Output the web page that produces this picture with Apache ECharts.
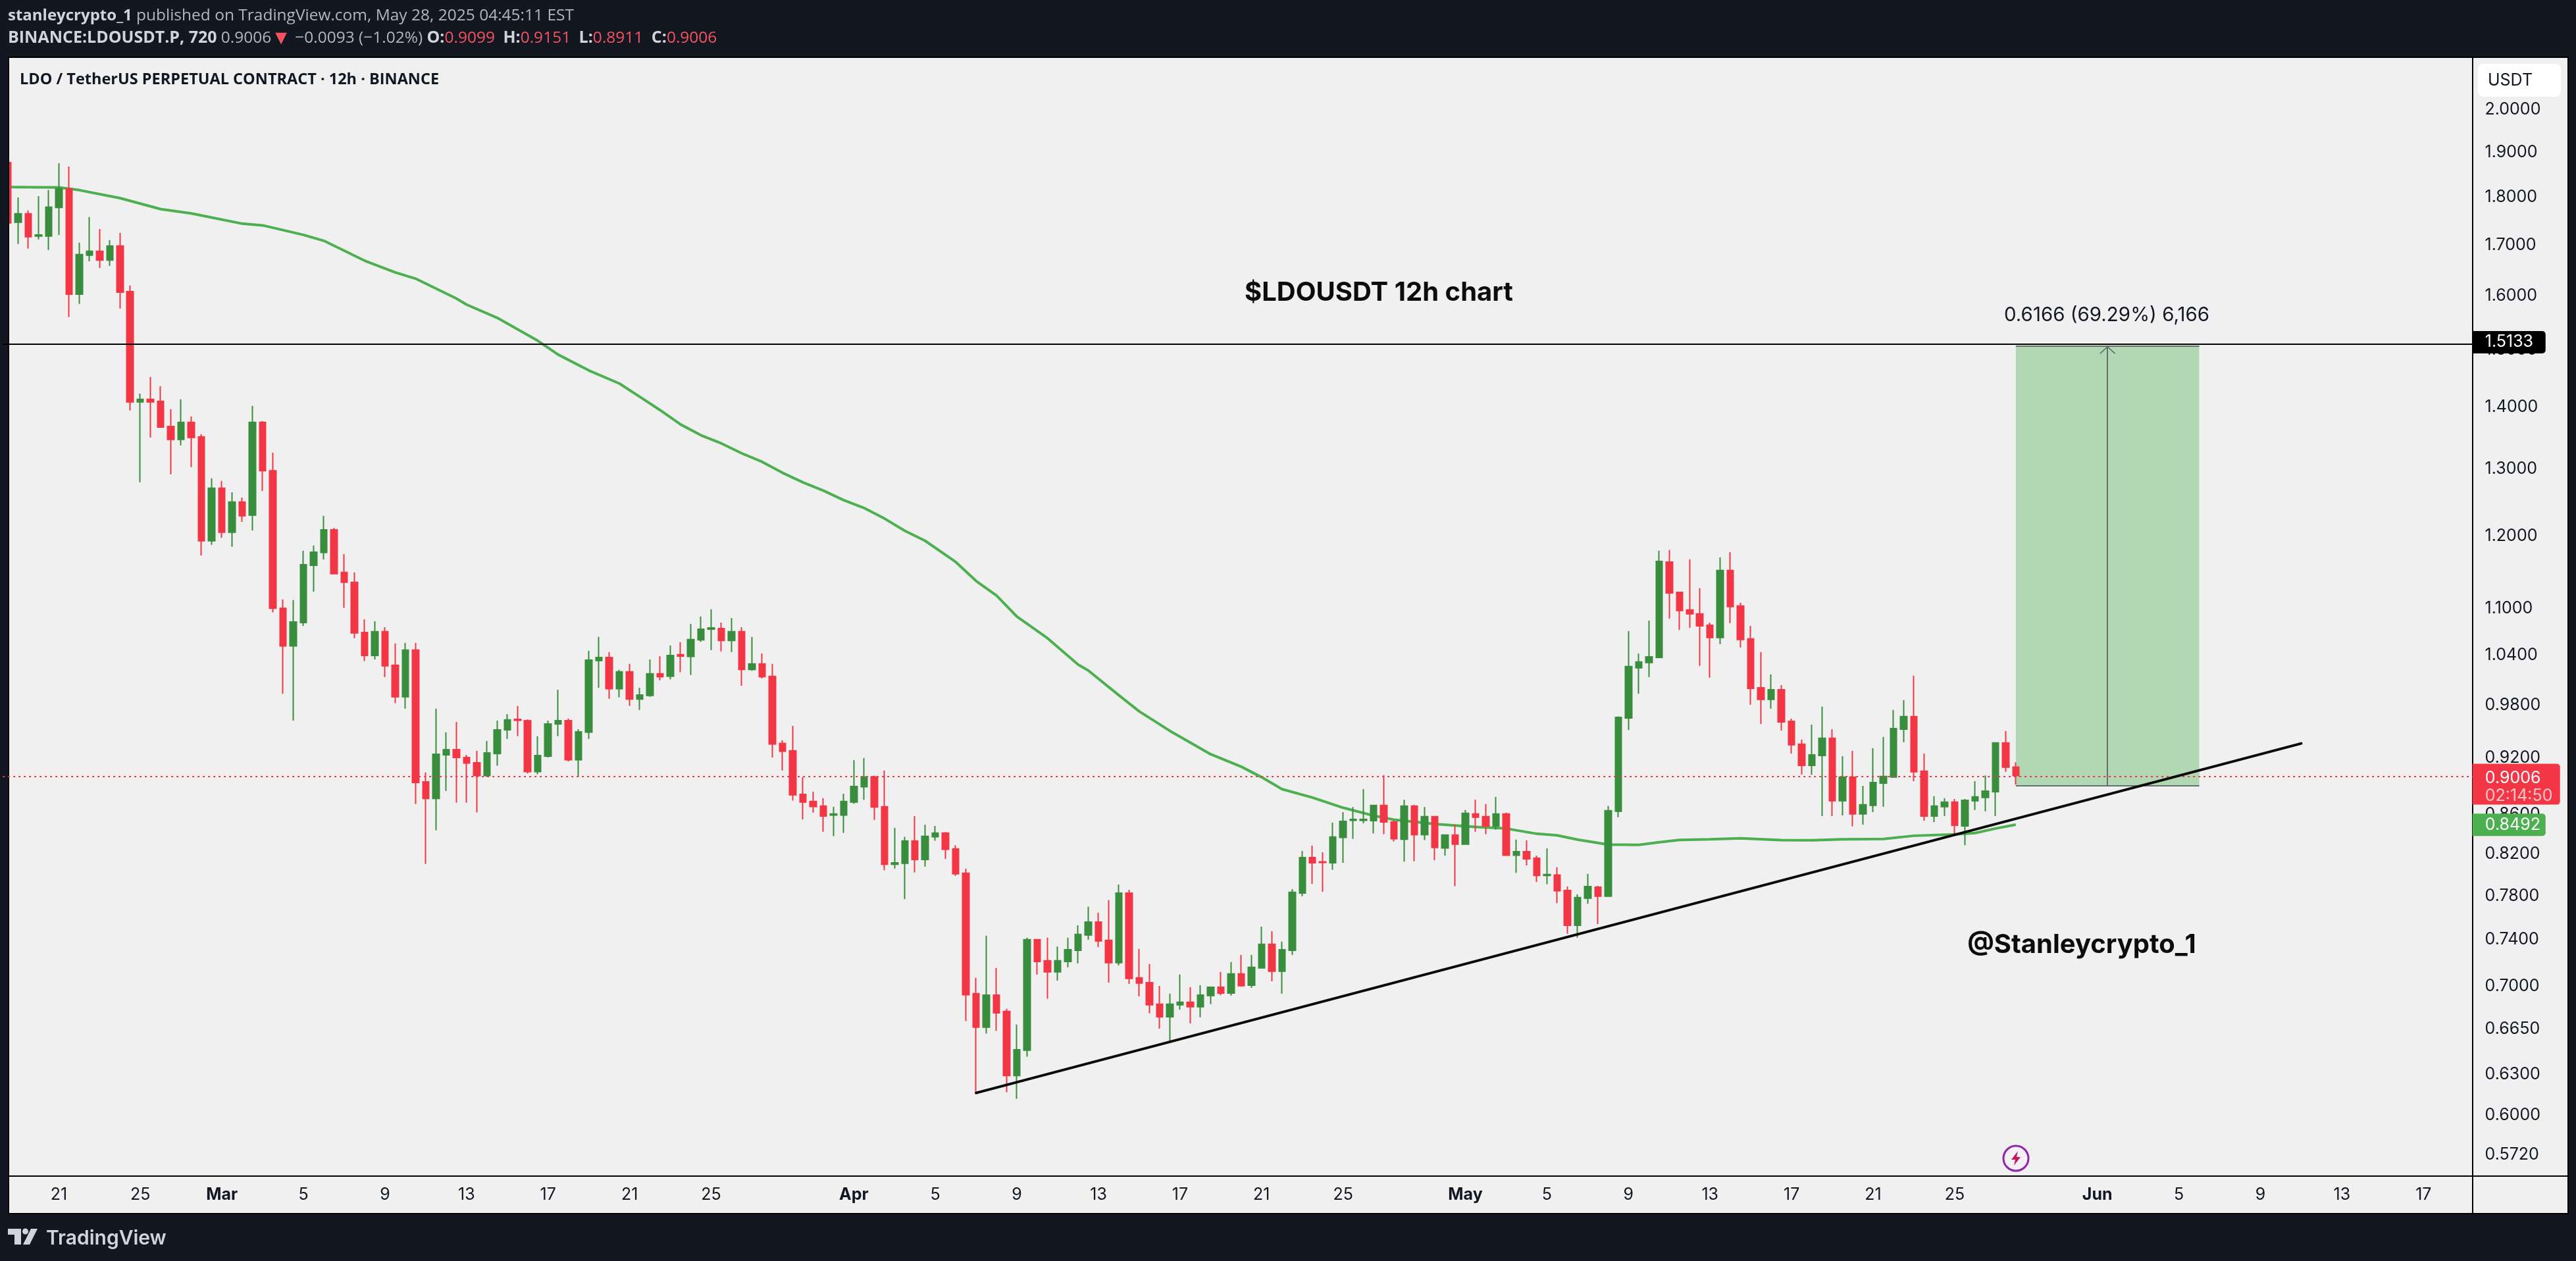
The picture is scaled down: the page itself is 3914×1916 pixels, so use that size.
<!DOCTYPE html>
<html>
<head>
<meta charset="utf-8">
<title>LDOUSDT 12h</title>
<script src="https://cdn.jsdelivr.net/npm/echarts@6/dist/echarts.min.js"></script>
<style>
html, body { margin: 0; padding: 0; background: #131722; }
#chart { width: 3914px; height: 1916px; }
</style>
</head>
<body>
<div id="chart"></div>
<script>
'use strict';

var opens = [1.8762,1.7468,1.7648,1.7181,1.7181,1.7780,1.8184,1.6028,1.6793,1.6873,1.6696,1.6980,1.6080,1.4087,1.4131,1.4098,1.3681,1.3469,1.3747,1.3511,
  1.1930,1.2705,1.2052,1.2497,1.2302,1.3747,1.2974,1.1004,1.0520,1.0818,1.1586,1.1764,1.2089,1.1487,1.1352,1.0691,1.0400,1.0700,1.0279,0.9897,
  1.0467,0.8940,0.8763,0.9233,0.9292,0.9204,0.9147,0.9006,0.9248,0.9514,0.9635,0.9620,0.9050,0.9218,0.9581,0.9620,0.9178,0.9487,1.0337,1.0375,
  0.9994,1.0199,0.9871,0.9914,1.0175,1.0144,1.0409,1.0387,1.0595,1.0733,1.0741,1.0587,1.0700,1.0226,1.0295,1.0142,0.9361,0.9279,0.8807,0.8732,
  0.8684,0.8590,0.8590,0.8725,0.8887,0.8992,0.8677,0.8099,0.8109,0.8329,0.8146,0.8370,0.8408,0.8251,0.8013,0.6937,0.6664,0.6926,0.6791,0.6289,
  0.6483,0.7400,0.7216,0.7120,0.7210,0.7307,0.7441,0.7558,0.7395,0.7200,0.7825,0.7070,0.7030,0.6851,0.6748,0.6845,0.6867,0.6829,0.6921,0.6991,
  0.6942,0.7103,0.7008,0.7154,0.7360,0.7126,0.7307,0.7825,0.8165,0.8124,0.8114,0.8364,0.8537,0.8537,0.8534,0.8691,0.8520,0.8345,0.8684,0.8391,
  0.8576,0.8259,0.8388,0.8296,0.8602,0.8576,0.8480,0.8602,0.8187,0.8223,0.8159,0.7991,0.7996,0.7850,0.7529,0.7777,0.7881,0.7795,0.8629,0.9650,
  1.0247,1.0311,1.0375,1.1631,1.1217,1.0983,1.0931,1.0783,1.0625,1.1514,1.1035,1.0608,1.0006,0.9866,0.9982,0.9612,0.9352,0.9118,0.9226,0.9418,
  0.8739,0.8990,0.8602,0.8691,0.8926,0.8990,0.9522,0.9666,0.9054,0.8581,0.8677,0.8725,0.8480,0.8739,0.8773,0.8834,0.9366,0.9099];
var closes = [1.7454,1.7648,1.7167,1.7207,1.7788,1.8184,1.6028,1.6806,1.6873,1.6696,1.6980,1.6067,1.4087,1.4131,1.4087,1.3670,1.3469,1.3747,1.3501,1.1930,
  1.2705,1.2052,1.2497,1.2292,1.3747,1.2974,1.1004,1.0520,1.0826,1.1595,1.1770,1.2089,1.1469,1.1352,1.0683,1.0400,1.0700,1.0271,0.9897,1.0467,
  0.8933,0.8763,0.9241,0.9292,0.9204,0.9143,0.9006,0.9255,0.9514,0.9628,0.9622,0.9050,0.9226,0.9581,0.9620,0.9178,0.9492,1.0343,1.0375,0.9994,
  1.0199,0.9871,0.9920,1.0175,1.0138,1.0400,1.0392,1.0600,1.0733,1.0750,1.0587,1.0700,1.0226,1.0295,1.0138,0.9354,0.9273,0.8802,0.8726,0.8679,
  0.8581,0.8602,0.8732,0.8891,0.8992,0.8674,0.8099,0.8114,0.8329,0.8146,0.8375,0.8408,0.8246,0.8008,0.6928,0.6664,0.6926,0.6780,0.6289,0.6487,
  0.7400,0.7210,0.7120,0.7216,0.7313,0.7447,0.7558,0.7389,0.7200,0.7825,0.7064,0.7026,0.6845,0.6748,0.6851,0.6867,0.6829,0.6926,0.6991,0.6942,
  0.7103,0.7004,0.7160,0.7360,0.7126,0.7313,0.7832,0.8165,0.8114,0.8117,0.8368,0.8527,0.8547,0.8547,0.8691,0.8520,0.8351,0.8684,0.8391,0.8576,
  0.8264,0.8388,0.8297,0.8609,0.8568,0.8480,0.8602,0.8187,0.8223,0.8152,0.7991,0.8001,0.7847,0.7529,0.7783,0.7887,0.7795,0.8636,0.9658,1.0263,
  1.0319,1.0384,1.1640,1.1208,1.0974,1.0931,1.0775,1.0625,1.1514,1.1026,1.0600,0.9998,0.9866,0.9982,0.9604,0.9344,0.9118,0.9233,0.9418,0.8739,
  0.8990,0.8602,0.8698,0.8933,0.8997,0.9529,0.9666,0.9047,0.8581,0.8684,0.8725,0.8487,0.8745,0.8780,0.8841,0.9366,0.9097,0.9006];
var lows = [1.7454,1.7020,1.6926,1.7114,1.6900,1.7207,1.5594,1.5842,1.6672,1.6542,1.6581,1.5755,1.3944,1.2796,1.3501,1.3659,1.2918,1.3374,1.3030,1.1723,
  1.1873,1.1972,1.1845,1.2204,1.2080,1.2665,1.0951,0.9935,0.9620,1.0775,1.1226,1.1667,1.1460,1.1009,1.0617,1.0331,1.0351,1.0134,0.9823,0.9758,
  0.8705,0.8102,0.8437,0.8844,0.8721,0.8721,0.8618,0.8992,0.9113,0.9411,0.9442,0.9030,0.9021,0.9204,0.9442,0.9161,0.8992,0.9411,1.0006,0.9874,
  0.9892,0.9792,0.9744,0.9898,1.0095,1.0106,1.0194,1.0161,1.0570,1.0468,1.0450,1.0442,1.0030,1.0210,1.0118,0.9204,0.9061,0.8741,0.8547,0.8616,
  0.8421,0.8377,0.8410,0.8708,0.8749,0.8542,0.8042,0.8058,0.7768,0.8022,0.8077,0.8331,0.8152,0.7988,0.6713,0.6159,0.6613,0.6635,0.6166,0.6117,
  0.6433,0.7098,0.6896,0.7047,0.7160,0.7193,0.7400,0.7336,0.7030,0.7176,0.7019,0.6915,0.6775,0.6653,0.6547,0.6807,0.6695,0.6743,0.6851,0.6926,
  0.6921,0.6996,0.6986,0.7154,0.7041,0.6937,0.7266,0.7795,0.7912,0.7838,0.8047,0.8114,0.8351,0.8506,0.8404,0.8396,0.8324,0.8125,0.8130,0.8338,
  0.8140,0.8184,0.7890,0.8291,0.8421,0.8396,0.8442,0.8184,0.8017,0.8089,0.7931,0.7908,0.7731,0.7453,0.7418,0.7725,0.7541,0.7795,0.8568,0.9514,
  0.9935,1.0134,1.0375,1.0870,1.0725,1.0750,1.0271,1.0127,1.0541,1.0809,1.0500,0.9804,0.9581,0.9758,0.9507,0.9248,0.9019,0.9015,0.8581,0.8581,
  0.8588,0.8477,0.8493,0.8622,0.8677,0.8983,0.9374,0.8947,0.8533,0.8520,0.8581,0.8388,0.8286,0.8643,0.8629,0.8581,0.9047,0.8911];
var highs = [1.8762,1.7996,1.7718,1.8025,1.8155,1.8748,1.8676,1.7047,1.7579,1.7329,1.7100,1.7247,1.6195,1.4231,1.4516,1.4356,1.3966,1.4131,1.3846,1.3553,
  1.2857,1.2817,1.2644,1.2565,1.4021,1.3769,1.3258,1.1122,1.1113,1.1789,1.1864,1.2292,1.2117,1.1742,1.1487,1.0861,1.0835,1.0758,1.0550,1.0558,
  1.0558,0.9040,0.9758,0.9485,0.9604,0.9233,0.9278,0.9389,0.9620,0.9696,0.9789,0.9635,0.9440,0.9620,0.9982,0.9643,0.9522,1.0459,1.0633,1.0442,
  1.0223,1.0295,1.0006,1.0351,1.0392,1.0525,1.0567,1.0800,1.0896,1.0991,1.0817,1.0878,1.0758,1.0633,1.0425,1.0295,0.9396,0.9559,0.8990,0.8834,
  0.8766,0.8677,0.8814,0.9175,0.9198,0.9006,0.9061,0.8460,0.8370,0.8581,0.8493,0.8480,0.8418,0.8286,0.8058,0.7070,0.7436,0.7154,0.6813,0.6685,
  0.7418,0.7406,0.7418,0.7339,0.7418,0.7529,0.7698,0.7643,0.7759,0.7906,0.7856,0.7319,0.7188,0.7002,0.6937,0.7098,0.6991,0.7008,0.6996,0.7120,
  0.7205,0.7266,0.7266,0.7517,0.7476,0.7383,0.7862,0.8230,0.8283,0.8217,0.8513,0.8622,0.8674,0.8862,0.8691,0.9012,0.8537,0.8749,0.8698,0.8674,
  0.8581,0.8395,0.8493,0.8643,0.8752,0.8705,0.8780,0.8616,0.8342,0.8335,0.8184,0.8256,0.8070,0.7887,0.7813,0.8007,0.7893,0.8684,0.9669,1.0708,
  1.0425,1.0843,1.1789,1.1798,1.1226,1.1667,1.1271,1.0817,1.1695,1.1770,1.1078,1.0775,1.0442,1.0166,1.0038,0.9643,0.9403,0.9574,0.9781,0.9522,
  0.9218,0.9278,0.8898,0.9307,0.9433,0.9743,0.9858,1.0150,0.9248,0.8787,0.8766,0.8759,0.8759,0.8947,0.9009,0.9374,0.9500,0.9151];

var emaBars = [0,5,7,11,15,18,23,25,29,31,35,38,40,44,45,48,52,54,57,60,62,64,66,68,70,72,74,76,78,80,82,84,86,88,90,93,95,97,99,102,105,106,109,111,114,118,121,123,125,128,131,134,136,140,144,147,150,152,154,157,160,162,164,167,170,174,177,180,184,187,191,193,195,197];
var emaValues = [1.8220,1.8213,1.8155,1.7982,1.7746,1.7655,1.7440,1.7405,1.7207,1.7087,1.6685,1.6452,1.6330,1.5947,1.5830,1.5582,1.5158,1.4909,1.4630,1.4402,1.4175,1.3950,1.3714,1.3538,1.3406,1.3248,1.3114,1.2943,1.2796,1.2670,1.2526,1.2409,1.2253,1.2075,1.1930,1.1631,1.1370,1.1174,1.0896,1.0617,1.0287,1.0215,0.9916,0.9727,0.9503,0.9241,0.9104,0.8990,0.8862,0.8773,0.8667,0.8585,0.8544,0.8500,0.8470,0.8454,0.8401,0.8385,0.8342,0.8293,0.8290,0.8316,0.8339,0.8345,0.8355,0.8338,0.8336,0.8345,0.8349,0.8381,0.8395,0.8408,0.8454,0.8493];

var priceTicks = [2.0,1.9,1.8,1.7,1.6,1.5,1.4,1.3,1.2,1.1,1.04,0.98,0.92,0.86,0.82,0.78,0.74,0.70,0.665,0.63,0.60,0.572];
var timeTickBars = [5,13,21,29,37,45,53,61,69,83,91,99,107,115,123,131,143,151,159,167,175,183,191,205,213,221,229,237];
var timeTickLabels = ['21','25','Mar','5','9','13','17','21','25','Apr','5','9','13','17','21','25','May','5','9','13','17','21','25','Jun','5','9','13','17'];
var monthLabels = ['Mar', 'Apr', 'May', 'Jun'];

var levelPrice = 1.5133;
var lastPrice = 0.9006;
var emaLast = 0.8492;
var boxBars = [197, 215];
var boxPrices = [0.8898, 1.5064];
var boxMidBar = 206;
var trendBars = [95, 225];
var trendPrices = [0.6160, 0.9360];

var barCount = 243;
var categories = [];
var startMs = Date.UTC(2025, 1, 18, 12);
for (var b = 0; b < barCount; b++) {
  categories.push(new Date(startMs + b * 43200000).toISOString().slice(0, 16));
}

var candles = opens.map(function (o, i) {
  return [o, closes[i], lows[i], highs[i]];
});
var emaData = emaBars.map(function (bar, i) {
  return [bar, emaValues[i]];
});

var RED = '#f23645', GREEN = '#388e3c', EMA_GREEN = '#4caf50', DARK = '#131722', PANEL = '#f0f0f0';
var UI_FONT = 'Inter';
var HEAD_FONT = '"Open Sans"';

function rect(x, y, w, h, fill, z) {
  return { type: 'rect', silent: true, z: z, shape: { x: x, y: y, width: w, height: h }, style: { fill: fill } };
}
function text(x, y, str, font, fill, weight, size, align, z) {
  return {
    type: 'text', silent: true, z: z || 9, x: x, y: y,
    style: { text: str, fontFamily: font, fill: fill, fontWeight: weight, fontSize: size, align: align || 'left', verticalAlign: 'middle' }
  };
}

var headRich = {
  name: { fontFamily: HEAD_FONT, fontSize: 24, fontWeight: 700, fill: '#d1d4dc' },
  name2: { fontFamily: HEAD_FONT, fontSize: 25, fontWeight: 700, fill: '#d1d4dc' },
  val: { fontFamily: HEAD_FONT, fontSize: 24.5, fill: '#b2b5be' },
  red: { fontFamily: HEAD_FONT, fontSize: 24.5, fill: '#f7525f' },
  tri: { fontFamily: HEAD_FONT, fontSize: 30, fill: '#f7525f' }
};

var graphics = [
  rect(0, 0, 3914, 87, DARK, 5),
  rect(0, 0, 13, 1916, DARK, 5),
  rect(3902, 0, 12, 1916, DARK, 5),
  rect(0, 1844, 3914, 72, DARK, 5),
  rect(3757, 87, 145, 1757, PANEL, 5),
  rect(13, 86, 3889, 2, '#000000', 5),
  rect(12, 86, 2, 1758, '#000000', 5),
  rect(3901, 86, 2, 1758, '#000000', 5),
  rect(12, 1843, 3891, 2, '#000000', 5),
  rect(3756, 86, 2, 1758, '#000000', 5),
  rect(13, 1786, 3889, 2, '#000000', 5),
  { type: 'rect', silent: true, z: 5, shape: { x: 3765, y: 97, width: 126, height: 50, r: 8 }, style: { fill: '#ffffff' } },
  text(3814, 122, 'USDT', UI_FONT, '#131722', 400, 25, 'center'),
  {
    type: 'text', silent: true, z: 9, x: 12, y: 24,
    style: {
      text: '{name|stanleycrypto_1} {val|published on TradingView.com, May 28, 2025 04:45:11 EST}',
      rich: headRich, verticalAlign: 'middle', fontFamily: HEAD_FONT, fontSize: 24
    }
  },
  {
    type: 'text', silent: true, z: 9, x: 12, y: 58,
    style: {
      text: '{name2|BINANCE:LDOUSDT.P, 720} {val|0.9006}{tri|▼} {val|−0.0093 (−1.02%)} {name2|O:}{red|0.9099}  {name2|H:}{red|0.9151}  {name2|L:}{red|0.8911}  {name2|C:}{red|0.9006}',
      rich: headRich, verticalAlign: 'middle', fontFamily: HEAD_FONT, fontSize: 24
    }
  },
  text(30, 121, 'LDO / TetherUS PERPETUAL CONTRACT · 12h · BINANCE', HEAD_FONT, '#131722', 700, 23.5),
  text(2095, 445, '$LDOUSDT 12h chart', UI_FONT, '#0c0c0c', 700, 40, 'center'),
  text(3163, 1436, '@Stanleycrypto_1', UI_FONT, '#0c0c0c', 700, 40, 'center'),
  text(3201, 479, '0.6166 (69.29%) 6,166', UI_FONT, '#131722', 400, 29.5, 'center'),
  text(70, 1882, 'TradingView', UI_FONT, '#d1d4dc', 600, 30),
  { type: 'polygon', silent: true, z: 9, shape: { points: [[12, 1867], [32, 1867], [32, 1891], [22, 1891], [22, 1876], [12, 1876]] }, style: { fill: '#d1d4dc' } },
  { type: 'circle', silent: true, z: 9, shape: { cx: 38.5, cy: 1871, r: 4.5 }, style: { fill: '#d1d4dc' } },
  { type: 'polygon', silent: true, z: 9, shape: { points: [[47, 1867], [57, 1867], [45, 1891], [35, 1891]] }, style: { fill: '#d1d4dc' } },
  { type: 'circle', silent: true, z: 9, shape: { cx: 3063, cy: 1760, r: 19 }, style: { fill: '#f5f0f7', stroke: '#8e24aa', lineWidth: 3 } },
  { type: 'polygon', silent: true, z: 9, shape: { points: [[3066, 1749], [3056, 1762], [3062, 1762], [3060, 1771], [3070, 1758], [3064, 1758]] }, style: { fill: '#c2185b' } }
];

function tagLabel(fill, width, height, str, offsetY, rich) {
  return {
    show: true, position: 'right', distance: 0, offset: [-3, offsetY], formatter: str, rich: rich,
    backgroundColor: fill, color: '#ffffff', opacity: 1, fontFamily: UI_FONT, fontSize: 25,
    width: width, height: height, lineHeight: rich ? 27 : height, padding: rich ? [8, 0, 0, 19] : [0, 0, 0, 19], borderRadius: [0, 5, 5, 0], align: 'left'
  };
}

var option = {
  animation: false,
  backgroundColor: PANEL,
  grid: { left: 4.16, top: 88, width: 3763.34, height: 1699.5 },
  xAxis: {
    type: 'category',
    data: categories,
    z: 6,
    boundaryGap: true,
    axisLine: { show: false },
    axisTick: { show: false },
    splitLine: { show: false },
    axisLabel: {
      show: true,
      margin: 15,
      hideOverlap: false,
      interval: function (index) {
        return timeTickBars.indexOf(index) >= 0;
      },
      formatter: function (value, index) {
        var label = timeTickLabels[timeTickBars.indexOf(index)];
        return monthLabels.indexOf(label) >= 0 ? '{m|' + label + '}' : label;
      },
      fontFamily: UI_FONT,
      fontSize: 25,
      color: '#131722',
      rich: { m: { fontFamily: UI_FONT, fontSize: 25, fontWeight: 700, color: '#131722' } }
    }
  },
  yAxis: {
    type: 'log',
    logBase: 10,
    min: 0.5574,
    max: 2.1268,
    position: 'right',
    z: 6,
    axisLine: { show: false },
    axisTick: { show: false },
    splitLine: { show: false },
    minorTick: { show: false },
    minorSplitLine: { show: false },
    axisLabel: {
      show: true,
      inside: false,
      margin: 8,
      customValues: priceTicks,
      formatter: function (v) { return Number(v).toFixed(4); },
      fontFamily: UI_FONT,
      fontSize: 25,
      color: '#131722'
    }
  },
  graphic: { elements: graphics },
  series: [
    {
      name: 'box',
      type: 'scatter',
      data: [],
      z: 1,
      markArea: {
        silent: true,
        itemStyle: { color: '#b2d7b3', opacity: 1 },
        data: [[{ xAxis: boxBars[0], yAxis: boxPrices[1] }, { xAxis: boxBars[1], yAxis: boxPrices[0] }]]
      },
      markLine: {
        silent: true,
        symbol: 'none',
        label: { show: false },
        lineStyle: { color: '#66706a', width: 2, type: 'solid', opacity: 1 },
        data: [
          [{ xAxis: boxBars[0], yAxis: boxPrices[1] }, { xAxis: boxBars[1], yAxis: boxPrices[1] }],
          [{ xAxis: boxBars[0], yAxis: boxPrices[0] }, { xAxis: boxBars[1], yAxis: boxPrices[0] }],
          [
            { xAxis: boxMidBar, yAxis: boxPrices[0], symbol: 'none' },
            { xAxis: boxMidBar, yAxis: boxPrices[1], symbol: 'path://M0,-12L0.01,-12L0,-11.99ZM0,0L12,11L10.6,12L0,2.4L-10.6,12L-12,11Z', symbolSize: 24 }
          ]
        ]
      }
    },
    {
      name: 'EMA',
      type: 'line',
      data: emaData,
      z: 1,
      showSymbol: false,
      smooth: false,
      lineStyle: { color: EMA_GREEN, width: 4 },
      itemStyle: { color: EMA_GREEN }
    },
    {
      name: 'LDOUSDT',
      type: 'candlestick',
      data: candles,
      z: 2,
      barWidth: 10,
      clip: false,
      itemStyle: { color: GREEN, color0: RED, borderColor: GREEN, borderColor0: RED, borderWidth: 2 }
    },
    {
      name: 'lines',
      type: 'scatter',
      data: [],
      z: 3,
      markLine: {
        silent: true,
        symbol: 'none',
        label: { show: false },
        data: [
          { yAxis: levelPrice, lineStyle: { color: '#000000', width: 2, type: 'solid', opacity: 1 } },
          { yAxis: lastPrice, lineStyle: { color: RED, width: 2, type: [3, 5], opacity: 1 } },
          [
            { xAxis: trendBars[0], yAxis: trendPrices[0], lineStyle: { color: '#0a0a0a', width: 4, type: 'solid', cap: 'round', opacity: 1 } },
            { xAxis: trendBars[1], yAxis: trendPrices[1] }
          ]
        ]
      }
    },
    {
      name: 'tags',
      type: 'scatter',
      z: 8,
      symbolSize: 0,
      clip: false,
      itemStyle: { opacity: 1 },
      data: [
        { value: [barCount - 1, levelPrice], label: tagLabel('#000000', 92, 34, levelPrice.toFixed(4), 0) },
        {
          value: [barCount - 1, lastPrice],
          label: tagLabel(RED, 114, 54, '{a|' + lastPrice.toFixed(4) + '}\n{b|02:14:50}', 13, {
            a: { color: '#ffffff', fontFamily: UI_FONT, fontSize: 25, lineHeight: 27 },
            b: { color: '#ffc4c9', fontFamily: UI_FONT, fontSize: 25, lineHeight: 27 }
          })
        },
        { value: [barCount - 1, emaLast], label: tagLabel(EMA_GREEN, 92, 34, emaLast.toFixed(4), 0) }
      ]
    }
  ]
};

var chart = echarts.init(document.getElementById('chart'), null, { renderer: 'canvas' });
chart.setOption(option);
</script>
</body>
</html>
